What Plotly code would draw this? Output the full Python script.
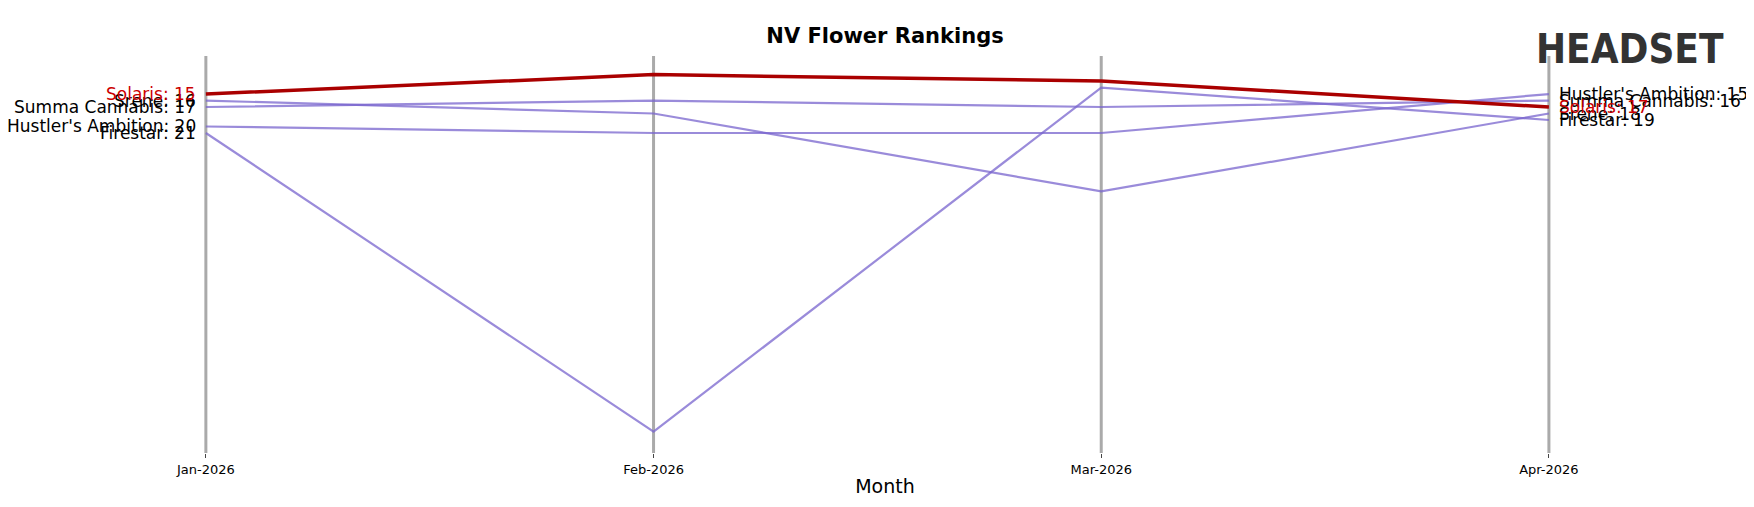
import plotly.graph_objects as go

months = ["Jan-2026", "Feb-2026", "Mar-2026", "Apr-2026"]
brands = ["Srene", "Summa Cannabis", "Hustler's Ambition", "Firestar", "Solaris"]
ranks = {
    "Srene": [16, 18, 30, 18],
    "Summa Cannabis": [17, 16, 17, 16],
    "Hustler's Ambition": [20, 21, 21, 15],
    "Firestar": [21, 67, 14, 19],
    "Solaris": [15, 12, 13, 17],
}
highlight = "Solaris"

fig = go.Figure()
xs = list(range(len(months)))
for b in brands:
    hl = b == highlight
    fig.add_trace(go.Scatter(x=xs, y=ranks[b], mode="lines", name=b,
        line=dict(color="#aa0000" if hl else "rgba(120,100,205,0.75)", width=3.5 if hl else 2.2),
        showlegend=False))
    col = "#cc0000" if hl else "black"
    fig.add_annotation(x=0, y=ranks[b][0], text=f"{b}: {ranks[b][0]}", xanchor="right", xshift=-8,
                       showarrow=False, font=dict(size=17, color=col))
    fig.add_annotation(x=3, y=ranks[b][-1], text=f"{b}: {ranks[b][-1]}", xanchor="left", xshift=8,
                       showarrow=False, font=dict(size=17, color=col))
for i in xs:
    fig.add_shape(type="line", x0=i, x1=i, y0=0, y1=1, yref="paper", xref="x",
                  line=dict(color="#aaaaaa", width=3), layer="below")

fig.add_annotation(x=0.925, y=1.08, xref="paper", yref="paper", yanchor="top", xanchor="center",
                   text="<b>HEADSET</b>", showarrow=False,
                   font=dict(size=40, color="#333333", family="DejaVu Sans Condensed"))

fig.update_layout(
    width=1754, height=507, plot_bgcolor="white", paper_bgcolor="white",
    margin=dict(l=0, r=0, t=48, b=62),
    title=dict(text="<b>NV Flower Rankings</b>", x=0.5, y=0.96, xanchor="center",
               font=dict(size=21, color="black", family="DejaVu Sans")),
    font=dict(family="DejaVu Sans", color="black"),
    xaxis=dict(range=[-0.442, 3.476], tickvals=xs, ticktext=months, showgrid=False, zeroline=False,
               ticks="outside", ticklen=4, tickfont=dict(size=13),
               title=dict(text="Month", font=dict(size=19), standoff=4)),
    yaxis=dict(range=[70.3, 9.14], visible=False, showgrid=False),
)
fig.write_html("out.html")
